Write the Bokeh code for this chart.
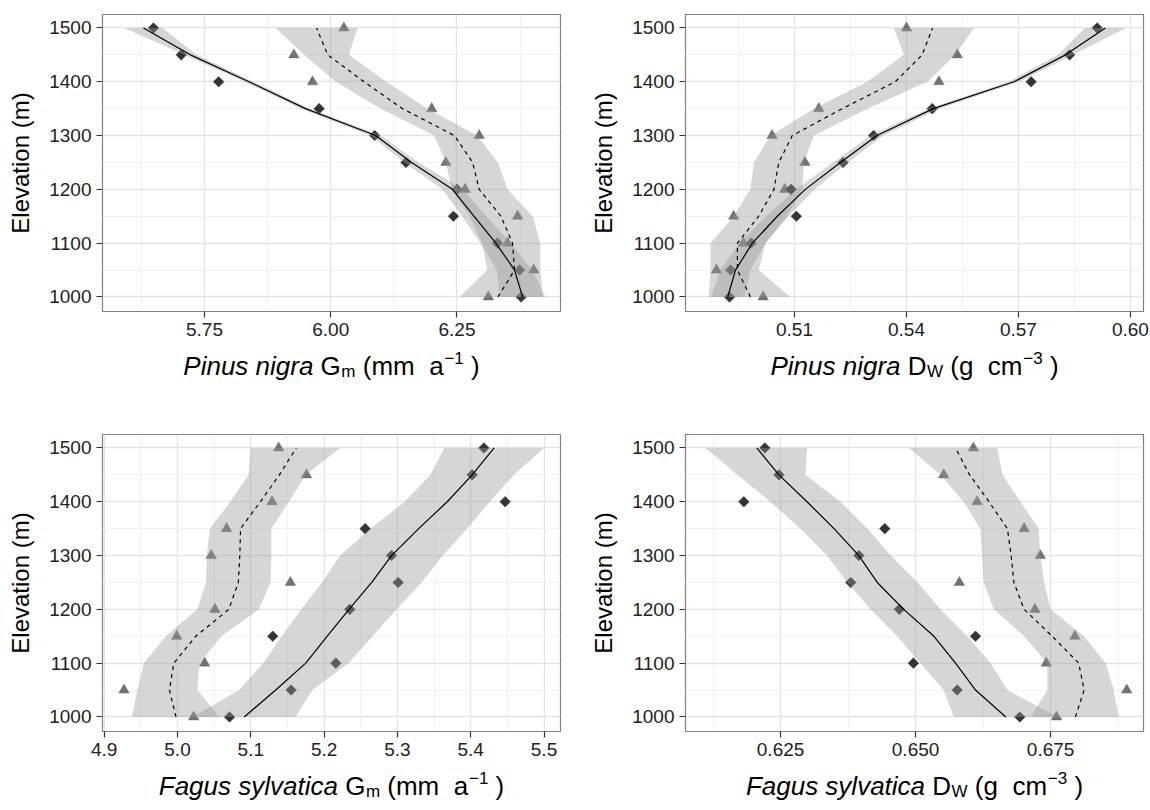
import math
from bokeh.plotting import figure
from bokeh.layouts import column, row
from bokeh.models import FixedTicker, Range1d, PrintfTickFormatter
from bokeh.core.properties import value
from bokeh.embed import file_html
from bokeh.resources import INLINE

# ---------------- data ----------------
elevation = [1000, 1050, 1100, 1150, 1200, 1250, 1300, 1350, 1400, 1450, 1500]
y_ticks = [1000, 1100, 1200, 1300, 1400, 1500]
y_minor = [1050, 1150, 1250, 1350, 1450]
y_label = "Elevation (m)"

# Pinus nigra Gm
pn_gm_diamond = [6.377, 6.374, 6.330, 6.243, 6.250, 6.149, 6.087, 5.977, 5.778, 5.704, 5.649]
pn_gm_triangle = [6.312, 6.402, 6.350, 6.370, 6.266, 6.228, 6.294, 6.200, 5.964, 5.927, 6.026]
pn_gm_solid = [6.380, 6.364, 6.327, 6.284, 6.241, 6.160, 6.089, 5.950, 5.838, 5.722, 5.629]
pn_gm_solid_lo = [6.335, 6.329, 6.297, 6.260, 6.221, 6.146, 6.079, 5.941, 5.829, 5.710, 5.591]
pn_gm_solid_hi = [6.425, 6.399, 6.357, 6.308, 6.261, 6.174, 6.099, 5.959, 5.847, 5.734, 5.667]
pn_gm_dashed = [6.331, 6.364, 6.360, 6.337, 6.294, 6.281, 6.245, 6.142, 6.066, 5.994, 5.972]
pn_gm_dashed_lo = [6.255, 6.310, 6.300, 6.275, 6.240, 6.228, 6.205, 6.099, 6.010, 5.947, 5.891]
pn_gm_dashed_hi = [6.420, 6.415, 6.415, 6.400, 6.350, 6.331, 6.290, 6.192, 6.110, 6.036, 6.053]
pn_gm_ticks = [5.75, 6.00, 6.25]
pn_gm_tick_labels = ["5.75", "6.00", "6.25"]
pn_gm_minor = [5.625, 5.875, 6.125, 6.375]

# Pinus nigra Dw
pn_dw_diamond = [0.4926, 0.4929, 0.4984, 0.5105, 0.5091, 0.5230, 0.5312, 0.5469, 0.5734, 0.5837, 0.5911]
pn_dw_triangle = [0.5016, 0.4891, 0.4963, 0.4937, 0.5074, 0.5128, 0.5040, 0.5165, 0.5487, 0.5536, 0.5400]
pn_dw_solid = [0.4921, 0.4942, 0.4987, 0.5054, 0.5129, 0.5223, 0.5321, 0.5472, 0.5688, 0.5826, 0.5933]
pn_dw_solid_lo = [0.4876, 0.4902, 0.4952, 0.5024, 0.5104, 0.5203, 0.5304, 0.5457, 0.5673, 0.5806, 0.5878]
pn_dw_solid_hi = [0.4966, 0.4982, 0.5022, 0.5084, 0.5154, 0.5243, 0.5338, 0.5487, 0.5703, 0.5846, 0.5988]
pn_dw_dashed = [0.4982, 0.4947, 0.4947, 0.5004, 0.5045, 0.5058, 0.5094, 0.5228, 0.5370, 0.5442, 0.5470]
pn_dw_dashed_lo = [0.4870, 0.4875, 0.4875, 0.4937, 0.4982, 0.4991, 0.5036, 0.5152, 0.5295, 0.5393, 0.5366]
pn_dw_dashed_hi = [0.5089, 0.5004, 0.5022, 0.5080, 0.5121, 0.5125, 0.5152, 0.5295, 0.5456, 0.5531, 0.5581]
pn_dw_ticks = [0.51, 0.54, 0.57, 0.60]
pn_dw_tick_labels = ["0.51", "0.54", "0.57", "0.60"]
pn_dw_minor = [0.495, 0.525, 0.555, 0.585]

# Fagus sylvatica Gm
fs_gm_diamond = [5.071, 5.155, 5.216, 5.130, 5.235, 5.301, 5.292, 5.256, 5.447, 5.402, 5.418]
fs_gm_triangle = [5.022, 4.927, 5.037, 4.999, 5.051, 5.154, 5.046, 5.067, 5.129, 5.176, 5.138]
fs_gm_solid = [5.091, 5.134, 5.175, 5.204, 5.234, 5.265, 5.292, 5.329, 5.368, 5.402, 5.432]
fs_gm_solid_lo = [5.021, 5.084, 5.117, 5.142, 5.169, 5.197, 5.222, 5.263, 5.310, 5.345, 5.364]
fs_gm_solid_hi = [5.161, 5.184, 5.233, 5.266, 5.299, 5.333, 5.362, 5.395, 5.426, 5.459, 5.500]
fs_gm_dashed = [4.998, 4.989, 4.995, 5.025, 5.070, 5.083, 5.085, 5.086, 5.113, 5.139, 5.162]
fs_gm_dashed_lo = [4.938, 4.945, 4.954, 4.984, 5.027, 5.039, 5.040, 5.044, 5.072, 5.097, 5.100]
fs_gm_dashed_hi = [5.057, 5.027, 5.030, 5.060, 5.111, 5.127, 5.128, 5.128, 5.152, 5.175, 5.222]
fs_gm_ticks = [4.9, 5.0, 5.1, 5.2, 5.3, 5.4, 5.5]
fs_gm_tick_labels = ["4.9", "5.0", "5.1", "5.2", "5.3", "5.4", "5.5"]
fs_gm_minor = [4.95, 5.05, 5.15, 5.25, 5.35, 5.45]

# Fagus sylvatica Dw
fs_dw_diamond = [0.6693, 0.6577, 0.6496, 0.6611, 0.6470, 0.6380, 0.6395, 0.6443, 0.6182, 0.6247, 0.6221]
fs_dw_triangle = [0.6761, 0.6891, 0.6742, 0.6795, 0.6721, 0.6581, 0.6731, 0.6701, 0.6614, 0.6552, 0.6607]
fs_dw_solid = [0.6667, 0.6611, 0.6574, 0.6534, 0.6478, 0.6429, 0.6395, 0.6349, 0.6299, 0.6247, 0.6206]
fs_dw_solid_lo = [0.6571, 0.6552, 0.6509, 0.6466, 0.6417, 0.6374, 0.6336, 0.6287, 0.6231, 0.6170, 0.6111]
fs_dw_solid_hi = [0.6763, 0.6670, 0.6639, 0.6596, 0.6546, 0.6504, 0.6454, 0.6411, 0.6361, 0.6296, 0.6299]
fs_dw_dashed = [0.6796, 0.6812, 0.6802, 0.6753, 0.6701, 0.6682, 0.6677, 0.6670, 0.6636, 0.6600, 0.6574]
fs_dw_dashed_lo = [0.6713, 0.6744, 0.6744, 0.6701, 0.6645, 0.6626, 0.6623, 0.6620, 0.6589, 0.6546, 0.6488]
fs_dw_dashed_hi = [0.6876, 0.6867, 0.6852, 0.6812, 0.6750, 0.6738, 0.6731, 0.6728, 0.6694, 0.6661, 0.6651]
fs_dw_ticks = [0.625, 0.650, 0.675]
fs_dw_tick_labels = ["0.625", "0.650", "0.675"]
fs_dw_minor = [0.6125, 0.6375, 0.6625, 0.6875]

# axis titles: (text, style, space before in em)
pn_gm_title = [("Pinus nigra", "it", 0), ("G", "rm", 0.278), ("m", "sub", 0.02),
               ("(mm", "rm", 0.278), ("a", "rm", 0.556), ("\u22121", "sup", 0.03), (")", "rm", 0.278)]
pn_dw_title = [("Pinus nigra", "it", 0), ("D", "rm", 0.278), ("W", "sub", 0.02),
               ("(g", "rm", 0.278), ("cm", "rm", 0.556), ("\u22123", "sup", 0.03), (")", "rm", 0.278)]
fs_gm_title = [("Fagus sylvatica", "it", 0), ("G", "rm", 0.278), ("m", "sub", 0.02),
               ("(mm", "rm", 0.278), ("a", "rm", 0.556), ("\u22121", "sup", 0.03), (")", "rm", 0.278)]
fs_dw_title = [("Fagus sylvatica", "it", 0), ("D", "rm", 0.278), ("W", "sub", 0.02),
               ("(g", "rm", 0.278), ("cm", "rm", 0.556), ("\u22123", "sup", 0.03), (")", "rm", 0.278)]

# ---------------- styling helpers ----------------
FONT = "Liberation Sans"
ARIAL = {" ": 278, "(": 333, ")": 333, "-": 333, ".": 278, "\u2212": 584,
         "A": 667, "D": 722, "F": 611, "G": 778, "P": 667, "W": 944,
         "a": 556, "c": 500, "g": 556, "i": 222, "l": 222, "m": 833, "n": 556,
         "r": 333, "s": 500, "t": 278, "u": 556, "v": 500, "y": 500}
TITLE_SIZE = 26
SMALL_SIZE = 17
FRAME_W = 458
FRAME_H = 297
AXIS_BOTTOM = 33
BASELINE_FROM_TOP = 21


def text_width(s, size):
    return sum(ARIAL.get(ch, 556) for ch in s) / 1000.0 * size


def make_title(pieces, left, right, height):
    t = figure(frame_width=FRAME_W, frame_height=height, x_range=Range1d(0, FRAME_W),
               y_range=Range1d(0, height), x_axis_type=None, y_axis_type=None,
               output_backend="svg", toolbar_location=None,
               min_border_left=left, min_border_right=right, min_border_top=0,
               min_border_bottom=0, background_fill_color="white", border_fill_color="white")
    t.outline_line_color = None
    t.xgrid.visible = False
    t.ygrid.visible = False
    items = []
    total = 0.0
    for text, st, gap in pieces:
        size = SMALL_SIZE if st in ("sub", "sup") else TITLE_SIZE
        g = gap * TITLE_SIZE
        w = text_width(text, size)
        items.append((text, st, size, g, w))
        total += g + w
    x = FRAME_W / 2 - total / 2
    base = height - BASELINE_FROM_TOP
    for text, st, size, g, w in items:
        x += g
        dy = {"sub": -6, "sup": 8}.get(st, 0)
        t.text(x=[x], y=[base + dy], text=[text], text_font=value(FONT),
               text_font_style=value("italic" if st == "it" else "normal"),
               text_font_size=value(f"{size}px"), text_align=value("left"),
               text_baseline=value("alphabetic"), text_color="#000000")
        x += w
    return t


def make_panel(xr, ticks, tick_labels, minor, fmt, diamond, triangle,
               solid, solid_lo, solid_hi, dashed, dashed_lo, dashed_hi,
               left, right, top):
    p = figure(frame_width=FRAME_W, frame_height=FRAME_H, x_range=Range1d(*xr),
               y_range=Range1d(973, 1525), output_backend="svg", toolbar_location=None,
               min_border_left=left, min_border_right=right, min_border_top=top,
               min_border_bottom=AXIS_BOTTOM, background_fill_color="white",
               border_fill_color="white")
    p.outline_line_color = "#808080"
    p.outline_line_width = 1.2

    p.xaxis.ticker = FixedTicker(ticks=ticks, minor_ticks=minor)
    p.xaxis.formatter = PrintfTickFormatter(format=fmt)
    p.xaxis.major_label_overrides = {t: l for t, l in zip(ticks, tick_labels)}
    p.yaxis.ticker = FixedTicker(ticks=y_ticks, minor_ticks=y_minor)
    p.yaxis.axis_label = y_label
    for ax in (p.xaxis[0], p.yaxis[0]):
        ax.axis_line_color = None
        ax.major_tick_line_color = "#333333"
        ax.major_tick_line_width = 1.2
        ax.major_tick_out = 6
        ax.major_tick_in = 0
        ax.minor_tick_line_color = None
        ax.major_label_text_font = FONT
        ax.major_label_text_font_size = "19px"
        ax.major_label_text_color = "#222222"
        ax.major_label_standoff = 5
        ax.axis_label_text_font = FONT
        ax.axis_label_text_font_size = "24px"
        ax.axis_label_text_font_style = "normal"
        ax.axis_label_text_color = "#000000"
        ax.axis_label_standoff = 12
    for g in (p.xgrid[0], p.ygrid[0]):
        g.grid_line_color = "#e4e4e4"
        g.grid_line_width = 1.3
        g.minor_grid_line_color = "#f1f1f1"
        g.minor_grid_line_width = 1.0

    # points
    p.scatter(triangle, elevation, marker="triangle", size=10.5,
              fill_color="#727272", line_color="#727272", line_width=0.5)
    p.scatter(diamond, elevation, marker="square", angle=math.pi / 4, size=7.5,
              fill_color="#333333", line_color="#333333", line_width=0.5)
    # confidence bands
    p.harea(x1=solid_lo, x2=solid_hi, y=elevation, fill_color="#999999", fill_alpha=0.4)
    p.harea(x1=dashed_lo, x2=dashed_hi, y=elevation, fill_color="#999999", fill_alpha=0.4)
    # fitted curves
    p.line(solid, elevation, line_color="#000000", line_width=1.2)
    p.line(dashed, elevation, line_color="#000000", line_width=1.2, line_dash="4 4")
    return p


p1 = make_panel((5.548, 6.455), pn_gm_ticks, pn_gm_tick_labels, pn_gm_minor, "%.2f",
                pn_gm_diamond, pn_gm_triangle, pn_gm_solid, pn_gm_solid_lo, pn_gm_solid_hi,
                pn_gm_dashed, pn_gm_dashed_lo, pn_gm_dashed_hi, 102, 15, 14)
p2 = make_panel((0.4808, 0.6035), pn_dw_ticks, pn_dw_tick_labels, pn_dw_minor, "%.2f",
                pn_dw_diamond, pn_dw_triangle, pn_dw_solid, pn_dw_solid_lo, pn_dw_solid_hi,
                pn_dw_dashed, pn_dw_dashed_lo, pn_dw_dashed_hi, 110, 7, 14)
p3 = make_panel((4.8977, 5.5225), fs_gm_ticks, fs_gm_tick_labels, fs_gm_minor, "%.1f",
                fs_gm_diamond, fs_gm_triangle, fs_gm_solid, fs_gm_solid_lo, fs_gm_solid_hi,
                fs_gm_dashed, fs_gm_dashed_lo, fs_gm_dashed_hi, 102, 15, 29)
p4 = make_panel((0.6074, 0.6922), fs_dw_ticks, fs_dw_tick_labels, fs_dw_minor, "%.3f",
                fs_dw_diamond, fs_dw_triangle, fs_dw_solid, fs_dw_solid_lo, fs_dw_solid_hi,
                fs_dw_dashed, fs_dw_dashed_lo, fs_dw_dashed_hi, 110, 7, 29)

top_title_h = 405 - 14 - FRAME_H - AXIS_BOTTOM
bot_title_h = 810 - 405 - 29 - FRAME_H - AXIS_BOTTOM
t1 = make_title(pn_gm_title, 102, 15, top_title_h)
t2 = make_title(pn_dw_title, 110, 7, top_title_h)
t3 = make_title(fs_gm_title, 102, 15, bot_title_h)
t4 = make_title(fs_dw_title, 110, 7, bot_title_h)

layout = column(row(p1, p2, spacing=0), row(t1, t2, spacing=0),
                row(p3, p4, spacing=0), row(t3, t4, spacing=0), spacing=0)
open("out.html", "w").write(file_html(layout, INLINE))
